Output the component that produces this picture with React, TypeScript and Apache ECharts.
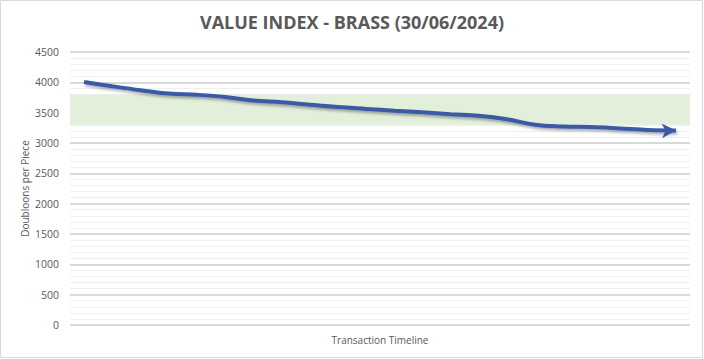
import React, { useEffect, useRef } from "react";
import * as echarts from "echarts";

const titleText = "VALUE INDEX - BRASS (30/06/2024)";
const yAxisName = "Doubloons per Piece";
const xAxisName = "Transaction Timeline";
const categories = [
  "T1", "T2", "T3", "T4", "T5", "T6", "T7", "T8", "T9", "T10", "T11",
  "T12", "T13", "T14", "T15", "T16", "T17", "T18", "T19", "T20", "T21", "T22",
];
const values = [
  4005, 3935, 3870, 3815, 3795, 3760, 3700, 3672, 3632, 3593, 3562,
  3532, 3505, 3474, 3448, 3392, 3300, 3272, 3262, 3240, 3215, 3208,
];
const bandLow = 3300;
const bandHigh = 3800;

export default function App() {
  const ref = useRef<HTMLDivElement>(null);
  useEffect(() => {
    if (!ref.current) return;
    const chart = echarts.init(ref.current, undefined, { renderer: "svg" });
    const font = "'Open Sans', sans-serif";
    const data = values.map((v, i) =>
      i === values.length - 1
        ? { value: v, symbol: "arrow", symbolSize: [11, 14], symbolRotate: -88, itemStyle: { color: "#3b5aa6" } }
        : { value: v }
    );
    chart.setOption({
      animation: false,
      backgroundColor: "#ffffff",
      title: {
        text: titleText,
        left: "center",
        top: 8,
        textStyle: { fontFamily: font, fontSize: 18, fontWeight: "bold", color: "#595959" },
      },
      graphic: [
        {
          type: "rect",
          shape: { x: 0.5, y: 0.5, width: 702, height: 357 },
          style: { fill: "none", stroke: "#d9d9d9", lineWidth: 1 },
          silent: true,
        },
      ],
      grid: { left: 70, right: 14, top: 52, bottom: 34 },
      xAxis: {
        type: "category",
        data: categories,
        boundaryGap: true,
        axisLine: { show: false },
        axisTick: { show: false },
        axisLabel: { show: false },
        name: xAxisName,
        nameLocation: "middle",
        nameGap: 10,
        nameTextStyle: { fontFamily: font, fontSize: 10, color: "#595959" },
      },
      yAxis: {
        type: "value",
        min: 0,
        max: 4500,
        interval: 500,
        axisLine: { show: false },
        axisTick: { show: false },
        axisLabel: {
          fontFamily: font,
          fontSize: 10.5,
          color: "#595959",
          margin: 11,
          formatter: (v: number) => String(v),
        },
        splitLine: { show: true, lineStyle: { color: "#d9d9d9", width: 2 } },
        minorTick: { show: false, splitNumber: 5 },
        minorSplitLine: { show: true, lineStyle: { color: "#efefef", width: 1 } },
        name: yAxisName,
        nameLocation: "middle",
        nameGap: 40,
        nameMoveOverlap: false,
        nameTextStyle: { fontFamily: font, fontSize: 10, color: "#595959" },
      },
      series: [
        {
          type: "line",
          data,
          smooth: 0.4,
          showSymbol: true,
          symbol: "none",
          lineStyle: {
            color: "#3b5aa6",
            width: 4,
            shadowColor: "rgba(0,0,0,0.35)",
            shadowBlur: 3,
            shadowOffsetX: 1,
            shadowOffsetY: 2,
          },
          itemStyle: { color: "#3b5aa6" },
          markArea: {
            silent: true,
            itemStyle: { color: "#e2efda" },
            data: [[{ yAxis: bandLow }, { yAxis: bandHigh }]],
          },
          z: 3,
        },
      ],
    });
    return () => chart.dispose();
  }, []);
  return (
    <div
      ref={ref}
      style={{ position: "absolute", left: 0, top: 0, width: 704, height: 359 }}
    />
  );
}
